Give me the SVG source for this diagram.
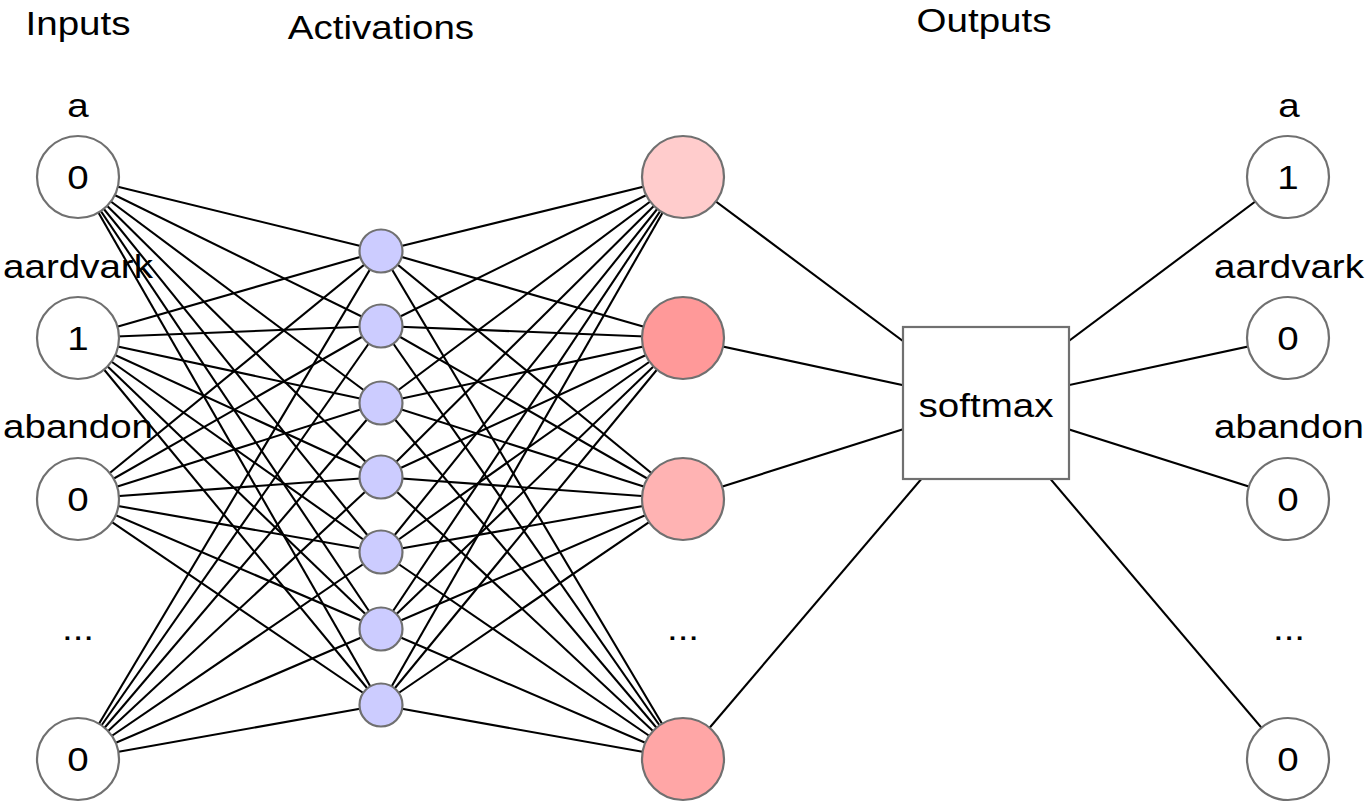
<svg xmlns="http://www.w3.org/2000/svg" width="1366" height="807" viewBox="0 0 1366 807">
<style>
.t{font-family:"Liberation Sans",Arial,Helvetica,sans-serif;font-size:33.5px;fill:#000;text-anchor:middle}
.node{stroke:#707070;stroke-width:2.2}
.in{fill:#fff}
.hid{fill:#ccccff}
.box{fill:#fff;stroke:#707070;stroke-width:2.2}
#connectors line{stroke:#000;stroke-width:2.1}
</style>
<rect width="1366" height="807" fill="#fff"/>
<g id="headers">
<text class="t" transform="translate(78,35) scale(1.15,1)">Inputs</text>
<text class="t" transform="translate(381,39) scale(1.15,1)">Activations</text>
<text class="t" transform="translate(984,32) scale(1.15,1)">Outputs</text>
</g>
<g id="connectors">
<line x1="78" y1="177" x2="381" y2="251"/><line x1="78" y1="177" x2="381" y2="326"/><line x1="78" y1="177" x2="381" y2="403"/><line x1="78" y1="177" x2="381" y2="477"/><line x1="78" y1="177" x2="381" y2="552"/><line x1="78" y1="177" x2="381" y2="629"/><line x1="78" y1="177" x2="381" y2="705"/>
<line x1="78" y1="338" x2="381" y2="251"/><line x1="78" y1="338" x2="381" y2="326"/><line x1="78" y1="338" x2="381" y2="403"/><line x1="78" y1="338" x2="381" y2="477"/><line x1="78" y1="338" x2="381" y2="552"/><line x1="78" y1="338" x2="381" y2="629"/><line x1="78" y1="338" x2="381" y2="705"/>
<line x1="78" y1="499" x2="381" y2="251"/><line x1="78" y1="499" x2="381" y2="326"/><line x1="78" y1="499" x2="381" y2="403"/><line x1="78" y1="499" x2="381" y2="477"/><line x1="78" y1="499" x2="381" y2="552"/><line x1="78" y1="499" x2="381" y2="629"/><line x1="78" y1="499" x2="381" y2="705"/>
<line x1="78" y1="759" x2="381" y2="251"/><line x1="78" y1="759" x2="381" y2="326"/><line x1="78" y1="759" x2="381" y2="403"/><line x1="78" y1="759" x2="381" y2="477"/><line x1="78" y1="759" x2="381" y2="552"/><line x1="78" y1="759" x2="381" y2="629"/><line x1="78" y1="759" x2="381" y2="705"/>
<line x1="381" y1="251" x2="683" y2="177"/><line x1="381" y1="251" x2="683" y2="338"/><line x1="381" y1="251" x2="683" y2="499"/><line x1="381" y1="251" x2="683" y2="759"/>
<line x1="381" y1="326" x2="683" y2="177"/><line x1="381" y1="326" x2="683" y2="338"/><line x1="381" y1="326" x2="683" y2="499"/><line x1="381" y1="326" x2="683" y2="759"/>
<line x1="381" y1="403" x2="683" y2="177"/><line x1="381" y1="403" x2="683" y2="338"/><line x1="381" y1="403" x2="683" y2="499"/><line x1="381" y1="403" x2="683" y2="759"/>
<line x1="381" y1="477" x2="683" y2="177"/><line x1="381" y1="477" x2="683" y2="338"/><line x1="381" y1="477" x2="683" y2="499"/><line x1="381" y1="477" x2="683" y2="759"/>
<line x1="381" y1="552" x2="683" y2="177"/><line x1="381" y1="552" x2="683" y2="338"/><line x1="381" y1="552" x2="683" y2="499"/><line x1="381" y1="552" x2="683" y2="759"/>
<line x1="381" y1="629" x2="683" y2="177"/><line x1="381" y1="629" x2="683" y2="338"/><line x1="381" y1="629" x2="683" y2="499"/><line x1="381" y1="629" x2="683" y2="759"/>
<line x1="381" y1="705" x2="683" y2="177"/><line x1="381" y1="705" x2="683" y2="338"/><line x1="381" y1="705" x2="683" y2="499"/><line x1="381" y1="705" x2="683" y2="759"/>
<line x1="683" y1="177" x2="986" y2="403"/><line x1="683" y1="338" x2="986" y2="403"/><line x1="683" y1="499" x2="986" y2="403"/><line x1="683" y1="759" x2="986" y2="403"/>
<line x1="986" y1="403" x2="1288" y2="177"/><line x1="986" y1="403" x2="1288" y2="338"/><line x1="986" y1="403" x2="1288" y2="499"/><line x1="986" y1="403" x2="1288" y2="759"/>
</g>
<g id="input-a"><circle class="node in" cx="78" cy="177" r="41"/><text class="t" transform="translate(78,117) scale(1.15,1)">a</text><text class="t" transform="translate(78,189) scale(1.15,1)">0</text></g>
<g id="input-aardvark"><circle class="node in" cx="78" cy="338" r="41"/><text class="t" transform="translate(78,350) scale(1.15,1)">1</text></g>
<g id="input-abandon"><circle class="node in" cx="78" cy="499" r="41"/><text class="t" transform="translate(78,511) scale(1.15,1)">0</text></g>
<g id="input-dots"><text class="t" transform="translate(78,640) scale(1.15,1)">...</text></g>
<g id="input-last"><circle class="node in" cx="78" cy="759" r="41"/><text class="t" transform="translate(78,771) scale(1.15,1)">0</text></g>
<g id="hidden-1"><circle class="node hid" cx="381" cy="251" r="21.5"/></g>
<g id="hidden-2"><circle class="node hid" cx="381" cy="326" r="21.5"/></g>
<g id="hidden-3"><circle class="node hid" cx="381" cy="403" r="21.5"/></g>
<g id="hidden-4"><circle class="node hid" cx="381" cy="477" r="21.5"/></g>
<g id="hidden-5"><circle class="node hid" cx="381" cy="552" r="21.5"/></g>
<g id="hidden-6"><circle class="node hid" cx="381" cy="629" r="21.5"/></g>
<g id="hidden-7"><circle class="node hid" cx="381" cy="705" r="21.5"/></g>
<g id="logit-1"><circle class="node" cx="683" cy="177" r="41" fill="#ffcccc"/></g>
<g id="logit-2"><circle class="node" cx="683" cy="338" r="41" fill="#ff9999"/></g>
<g id="logit-3"><circle class="node" cx="683" cy="499" r="41" fill="#ffb3b3"/></g>
<g id="logit-dots"><text class="t" transform="translate(683,640) scale(1.15,1)">...</text></g>
<g id="logit-4"><circle class="node" cx="683" cy="759" r="41" fill="#ffa6a6"/></g>
<g id="softmax"><rect class="box" x="903" y="327" width="166" height="152"/><text class="t" transform="translate(986,417) scale(1.15,1)">softmax</text></g>
<g id="output-a"><circle class="node in" cx="1288" cy="177" r="41"/><text class="t" transform="translate(1289,117) scale(1.15,1)">a</text><text class="t" transform="translate(1288,189) scale(1.15,1)">1</text></g>
<g id="output-aardvark"><circle class="node in" cx="1288" cy="338" r="41"/><text class="t" transform="translate(1288,350) scale(1.15,1)">0</text></g>
<g id="output-abandon"><circle class="node in" cx="1288" cy="499" r="41"/><text class="t" transform="translate(1288,511) scale(1.15,1)">0</text></g>
<g id="output-dots"><text class="t" transform="translate(1289,640) scale(1.15,1)">...</text></g>
<g id="output-last"><circle class="node in" cx="1288" cy="759" r="41"/><text class="t" transform="translate(1288,771) scale(1.15,1)">0</text></g>
<g id="labels">
<text class="t" transform="translate(78,278) scale(1.15,1)">aardvark</text>
<text class="t" transform="translate(78,438) scale(1.15,1)">abandon</text>
<text class="t" transform="translate(1289,278) scale(1.15,1)">aardvark</text>
<text class="t" transform="translate(1289,438) scale(1.15,1)">abandon</text>
</g>
</svg>
